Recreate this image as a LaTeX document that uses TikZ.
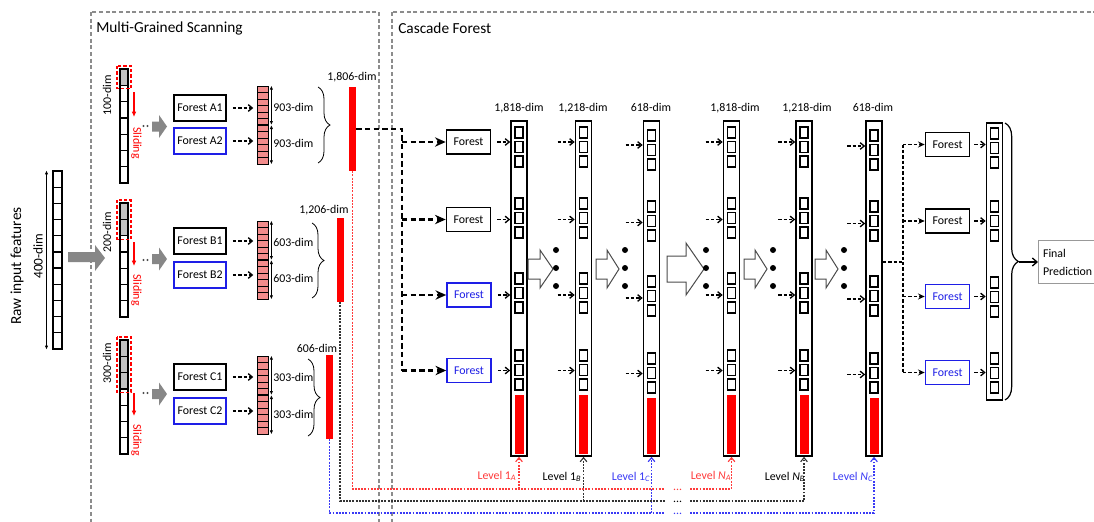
\documentclass[tikz,border=0pt]{standalone}
\usepackage{fontspec}
\setmainfont{Carlito}
\usetikzlibrary{arrows.meta,decorations.pathreplacing,calc}
\definecolor{pinkcell}{HTML}{F28C8C}
\definecolor{fblue}{HTML}{1E1EE6}
\definecolor{lvred}{HTML}{FF3B3B}
\definecolor{lvblue}{HTML}{3A3AF5}
\definecolor{framegray}{HTML}{8C8C8C}
\definecolor{arrgray}{HTML}{878787}
\definecolor{cellgray}{HTML}{C4C4C4}
\newcommand\fs{\fontsize{8.9}{10.6}\selectfont}
\newcommand\ScanCol[3]{%
  \fill[cellgray] (120,#2) rectangle (128,{#2+#3*16.3});
  \foreach \i in {0,...,6}{\draw[cellline] (120,{#2+\i*16.3}) rectangle ++(8,16.3);}
  \node[anchor=north, minimum width=6pt, minimum height=85.6pt, inner sep=0pt] (#1) at (124,#2) {};
  \draw[red, line width=0.9pt, dash pattern=on 2.5pt off 1.5pt] (117,{#2-3}) rectangle (131,{#2+#3*16.3+3.5});
}
\newcommand\PinkCol[2]{%
  \node[draw, fill=pinkcell, line width=0.6pt, minimum width=8.25pt, minimum height=58.5pt, inner sep=0pt] (#1) at (262.5,#2) {};
  \foreach \i in {1,...,11}{\draw[line width=0.5pt] (257,{#2-39+\i*6.5}) -- (268,{#2-39+\i*6.5});}
  \draw[line width=1.1pt] (257,#2) -- (268,#2);
  \draw[dimarr] ([xshift=2.25pt]#1.north east) -- ([xshift=2.25pt]#1.east);
  \draw[dimarr] ([xshift=2.25pt]#1.east) -- ([xshift=2.25pt]#1.south east);
}
\newcommand\GArrow[1]{%
  \fill[arrgray] (152,{#1-5}) -- (159,{#1-5}) -- (159,{#1-11.5}) -- (167,#1) -- (159,{#1+11.5}) -- (159,{#1+5}) -- (152,{#1+5}) -- cycle;}
\newcommand\GDots[1]{\fill[gray!60!black] (143.5,#1) circle (1.2) (147.5,#1) circle (1.2);}
\newcommand\HArrow[5]{%
  \draw[harrow] (#1,{269-#4}) -- (#2,{269-#4}) -- (#2,{269-#5}) -- (#3,269) -- (#2,{269+#5}) -- (#2,{269+#4}) -- (#1,{269+#4}) -- cycle;}
\begin{document}
\begin{tikzpicture}[x=0.75pt,y=-0.75pt,
  lbl/.style={font=\fs, inner sep=0pt},
  cellline/.style={draw=black, line width=0.95pt},
  frame/.style={draw=framegray, line width=0.8pt, dash pattern=on 3pt off 2pt},
  fbox/.style={draw=black, line width=1.25pt, minimum width=39pt, minimum height=19.5pt, inner sep=0pt, font=\fs},
  fboxb/.style={fbox, draw=fblue},
  cbox/.style={draw=black, line width=1.25pt, minimum width=33pt, minimum height=18pt, inner sep=0pt, font=\fs},
  cboxb/.style={cbox, draw=fblue, text=fblue},
  redbar/.style={fill=red, minimum width=5.25pt, minimum height=63pt, inner sep=0pt},
  casccol/.style={draw=black, line width=1.25pt, minimum width=12pt, inner sep=0pt},
  sq/.style={draw=black, line width=0.95pt},
  dimarr/.style={{Latex[length=3pt,width=2.5pt]}-{Latex[length=3pt,width=2.5pt]}, line width=0.6pt},
  smallarr/.style={line width=1pt, dash pattern=on 2.5pt off 1.5pt, -{Straight Barb[length=3pt,width=5pt]}},
  thickarr/.style={line width=1.7pt, dash pattern=on 4pt off 2.5pt},
  medarr/.style={line width=1pt, dash pattern=on 2.5pt off 1.5pt},
  lvline/.style={line width=0.85pt, dash pattern=on 1.4pt off 1pt},
  lvtip/.style={-{Straight Barb[length=3pt,width=5pt]}},
  harrow/.style={draw=gray!60!black, fill=white, line width=0.75pt},
  brc/.style={decorate, decoration={brace, amplitude=#1}, line width=0.6pt},
]
\useasboundingbox (0,0) rectangle (1094,521);
\clip (0,0) rectangle (1094,521);
\fill[white] (0,0) rectangle (1094,521);

% frames
\draw[frame] (91,12) rectangle (379,540);
\draw[frame] (392,12) rectangle (1110,540);
\node[lbl, anchor=west, font=\fontsize{11.5}{13}\selectfont] (t1) at (96,28) {Multi-Grained Scanning};
\node[lbl, anchor=west, font=\fontsize{11.5}{13}\selectfont] (t2) at (398,28) {Cascade Forest};

% raw input
\node[draw, line width=0.95pt, minimum width=6.75pt, minimum height=133.5pt, inner sep=0pt] (raw) at (57.5,260) {};
\foreach \i in {1,...,10} \draw[line width=0.95pt] (53,{171+\i*16.18}) -- (62,{171+\i*16.18});
\draw[dimarr] ([xshift=-8.25pt]raw.north) -- ([xshift=-8.25pt]raw.south);
\node[lbl, rotate=90, font=\fontsize{10}{12}\selectfont] (d400) at (38,256) {400-dim};
\node[lbl, rotate=90, font=\fontsize{11.5}{13}\selectfont] (rif) at (17,266) {Raw input features};
\fill[arrgray] (68,252) -- (95,252) -- (95,245) -- (105,258) -- (95,271) -- (95,262) -- (68,262) -- cycle;

% group A
\ScanCol{sA}{69}{1}
\node[lbl, rotate=90] (dA) at (107,95) {100-dim};
\draw[red, line width=0.9pt, -{Latex[length=4pt,width=3.5pt]}] (134,92) -- (134,117);
\node[lbl, rotate=-90, text=red] (slA) at (136.5,143) {Sliding};
\GDots{126}
\GArrow{126.5}
\node[fbox] (fA1) at (200,108) {Forest A1};
\node[fboxb] (fA2) at (200,141) {Forest A2};
\PinkCol{pA}{125}
\draw[smallarr, shorten <=4.5pt, shorten >=2.5pt] (fA1.east) -- (fA1.east -| pA.west);
\draw[smallarr, shorten <=4.5pt, shorten >=2.5pt] (fA2.east) -- (fA2.east -| pA.west);
\node[lbl, anchor=west] (nA1) at (273,107) {903-dim};
\node[lbl, anchor=west] (nA2) at (273,143) {903-dim};
\draw[brc=9pt] (318,87) -- (318,163);
\node[redbar] (bA) at (352.5,129) {};
\node[lbl] (lbA) at (352,77) {1,806-dim};

% group B
\ScanCol{sB}{203}{2}
\node[lbl, rotate=90] (dB) at (107,232) {200-dim};
\draw[red, line width=0.9pt, -{Latex[length=4pt,width=3.5pt]}] (134,242) -- (134,266);
\node[lbl, rotate=-90, text=red] (slB) at (136.5,290) {Sliding};
\GDots{260}
\GArrow{259}
\node[fbox] (fB1) at (200,241) {Forest B1};
\node[fboxb] (fB2) at (200,275) {Forest B2};
\PinkCol{pB}{260}
\draw[smallarr, shorten <=4.5pt, shorten >=2.5pt] (fB1.east) -- (fB1.east -| pB.west);
\draw[smallarr, shorten <=4.5pt, shorten >=2.5pt] (fB2.east) -- (fB2.east -| pB.west);
\node[lbl, anchor=west] (nB1) at (273,242) {603-dim};
\node[lbl, anchor=west] (nB2) at (273,278) {603-dim};
\draw[brc=9pt] (312,223) -- (312,298);
\node[redbar] (bB) at (340,260) {};
\node[lbl] (lbB) at (324,210) {1,206-dim};

% group C
\ScanCol{sC}{340}{3}
\node[lbl, rotate=90] (dC) at (107,363) {300-dim};
\draw[red, line width=0.9pt, -{Latex[length=4pt,width=3.5pt]}] (134,393) -- (134,416);
\node[lbl, rotate=-90, text=red] (slC) at (136.5,440) {Sliding};
\GDots{393}
\GArrow{394}
\node[fbox] (fC1) at (200,377) {Forest C1};
\node[fboxb] (fC2) at (200,411) {Forest C2};
\PinkCol{pC}{395}
\draw[smallarr, shorten <=4.5pt, shorten >=2.5pt] (fC1.east) -- (fC1.east -| pC.west);
\draw[smallarr, shorten <=4.5pt, shorten >=2.5pt] (fC2.east) -- (fC2.east -| pC.west);
\node[lbl, anchor=west] (nC1) at (273,377) {303-dim};
\node[lbl, anchor=west] (nC2) at (273,414) {303-dim};
\draw[brc=9pt] (308,359) -- (308,436);
\node[redbar] (bC) at (329.5,397) {};
\node[lbl] (lbC) at (317,348) {606-dim};

% cascade level 1 forests
\node[cbox] (f1) at (468.5,142) {Forest};
\node[cbox] (f2) at (468.5,219.5) {Forest};
\node[cboxb] (f3) at (469,295) {Forest};
\node[cboxb] (f4) at (469,370.5) {Forest};
\coordinate (tk) at (402,129);
\draw[thickarr] (bA.east) -- (tk) -- (tk |- f4.west);
\foreach \f in {f1,f2,f3,f4} \draw[thickarr, -{Stealth[length=8pt,width=7pt]}] (tk |- \f.west) -- (\f.west);

% cascade columns
\foreach \n/\xc/\dy in {c1/519/0,c2/583.5/0,c3/651.5/3,c4/731.5/0,c5/804/0,c6/874/3}{
  \node[casccol, minimum height=251.25pt] (\n) at (\xc,288.5) {};
  \foreach \g in {127,198,273,350}{\foreach \k in {0,1,2}{\draw[sq] ({\xc-4},{\g+\dy+\k*14.5}) rectangle ++(8,11);}}
  \fill[red] ({\xc-4.5},{395+\dy}) rectangle ({\xc+4.5},453.5);
}
\node[lbl] (h1) at (519,108) {1,818-dim};
\node[lbl] (h2) at (583,108) {1,218-dim};
\node[lbl] (h3) at (651,107) {618-dim};
\node[lbl] (h4) at (735,108) {1,818-dim};
\node[lbl] (h5) at (807,108) {1,218-dim};
\node[lbl] (h6) at (873,107) {618-dim};

\foreach \f in {f1,f2,f3,f4} \draw[smallarr, shorten <=4.5pt] (\f.east) -- (\f.east -| c1.west);
\foreach \c in {c2,c4,c5}{\foreach \f in {f1,f2,f3,f4}{
  \draw[smallarr] ($(\f.east -| \c.west)+(-17,0)$) -- (\f.east -| \c.west);}}
\foreach \f in {f1,f2,f3,f4}{
  \draw[smallarr] ($(\f.east -| c3.west)+(-17,3)$) -- ($(\f.east -| c3.west)+(0,3)$);
  \draw[smallarr] ($(\f.east -| c6.west)+(-18,4)$) -- ($(\f.east -| c6.west)+(0,4)$);}

% hollow arrows and dots
\HArrow{528}{540}{553}{10}{19}
\HArrow{596}{607}{619}{10}{19}
\HArrow{667}{686}{704}{13}{26}
\HArrow{744}{755}{767}{10}{19}
\HArrow{815}{826}{838}{10}{19}
\foreach \x in {556,625,706,773,844}{\foreach \y in {250,268,286}{\fill (\x,\y) circle (3);}}

% final stage
\node[cbox] (g1) at (947.5,144.5) {Forest};
\node[cbox] (g2) at (947.5,221) {Forest};
\node[cboxb] (g3) at (947.5,296.5) {Forest};
\node[cboxb] (g4) at (947.5,372.5) {Forest};
\coordinate (tk2) at (903,262);
\draw[medarr] (c6.east |- tk2) -- (tk2);
\draw[medarr] (tk2 |- g1.west) -- (tk2 |- g4.west);
\foreach \g in {g1,g2,g3,g4} \draw[medarr, -{Stealth[length=5pt,width=4.5pt]}] (tk2 |- \g.west) -- (\g.west);
\node[casccol, minimum height=207.75pt] (cf) at (994.5,261.5) {};
\foreach \g in {128,201,277,353}{\foreach \k in {0,1,2}{\draw[sq] (990.5,{\g+\k*14.5}) rectangle ++(8,11);}}
\foreach \g in {g1,g2,g3,g4} \draw[smallarr, shorten <=3pt] (\g.east) -- (\g.east -| cf.west);
\draw[brc=10pt, line width=0.9pt] (1005,123) -- (1005,400);
\coordinate (bt) at (1019,262);
\node[draw=gray!80, line width=0.6pt, anchor=west, minimum height=32.25pt, text width=42pt, inner xsep=3.5pt, inner ysep=0pt, align=left, font=\fontsize{8.9}{13.5}\selectfont] (fp) at (1038,262) {Final\\Prediction};
\draw[line width=1pt, -{Straight Barb[length=3.5pt,width=6pt]}] (bt) -- (fp.west);

% level feedback lines
\draw[lvline, lvred] (bA.south) |- (665,489);
\draw[lvline, lvred, lvtip] (690,489) -| (c4.south);
\draw[lvline, lvred, lvtip] (c1.south |- 0,489) -- (c1.south);
\node[lbl, text=lvred, anchor=base] (e1) at (677.5,490.5) {...};
\draw[lvline, black!80] (bB.south) |- (665,501);
\draw[lvline, black!80, lvtip] (690,501) -| (c5.south);
\draw[lvline, black!80, lvtip] (c2.south |- 0,501) -- (c2.south);
\node[lbl, anchor=base] (e2) at (677.5,502.5) {...};
\draw[lvline, lvblue] (bC.south) |- (665,513);
\draw[lvline, lvblue, lvtip] (690,513) -| (c6.south);
\draw[lvline, lvblue, lvtip] (c3.south |- 0,513) -- (c3.south);
\node[lbl, text=lvblue, anchor=base] (e3) at (677.5,514.5) {...};

\node[lbl, text=lvred] (L1A) at (497,476) {Level 1\textsubscript{\itshape A}};
\node[lbl] (L1B) at (562,477) {Level 1\textsubscript{\itshape B}};
\node[lbl, text=lvblue] (L1C) at (631,477) {Level 1\textsubscript{\itshape C}};
\node[lbl, text=lvred] (LNA) at (711,476) {Level {\itshape N}\textsubscript{\itshape A}};
\node[lbl] (LNB) at (785,477) {Level {\itshape N}\textsubscript{\itshape B}};
\node[lbl, text=lvblue] (LNC) at (853,477) {Level {\itshape N}\textsubscript{\itshape C}};
\end{tikzpicture}
\end{document}
